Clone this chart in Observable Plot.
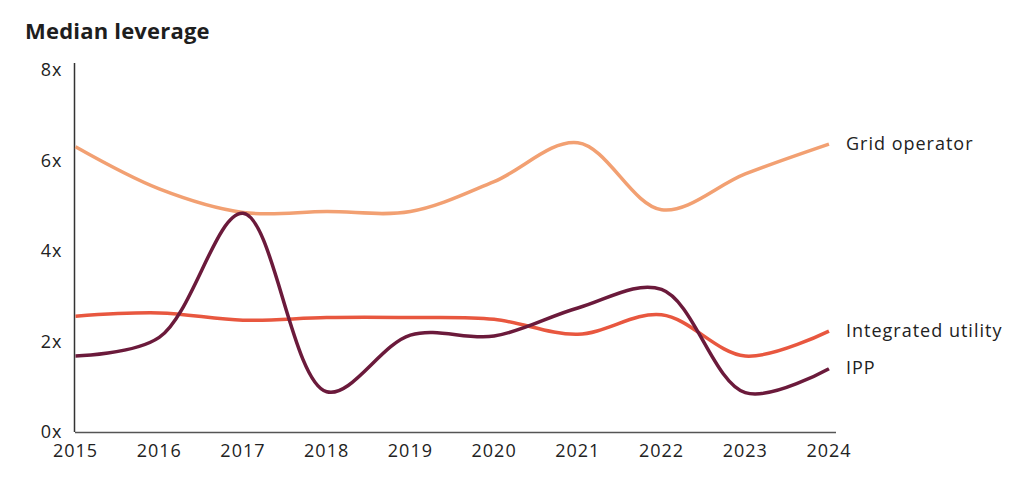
<!DOCTYPE html>
<html>
<head>
<meta charset="utf-8">
<script src="https://cdn.jsdelivr.net/npm/d3@7"></script>
<script src="https://cdn.jsdelivr.net/npm/@observablehq/plot@0.6"></script>
<style>
  html, body { margin: 0; padding: 0; background: #fff; }
  #title { font-family: "Open Sans", sans-serif; font-weight: 700; font-size: 22px; letter-spacing: 0.2px; color: #1e1e1e; padding: 15px 0 0 25px; height: 35px; box-sizing: content-box; line-height: 30px; }
  #chart svg { display: block; }
</style>
</head>
<body>
<div id="title">Median leverage</div>
<div id="chart"></div>
<script>
const years = [2015, 2016, 2017, 2018, 2019, 2020, 2021, 2022, 2023, 2024];
const seriesNames = ["Grid operator", "Integrated utility", "IPP"];
const gridOperator = [6.31, 5.38, 4.86, 4.88, 4.88, 5.54, 6.40, 4.92, 5.71, 6.37];
const integratedUtility = [2.57, 2.64, 2.48, 2.54, 2.54, 2.50, 2.17, 2.60, 1.69, 2.24];
const ipp = [1.69, 2.10, 4.84, 0.90, 2.15, 2.13, 2.75, 3.16, 0.88, 1.41];
const colors = ["#f2a072", "#e8573f", "#6b1a3b"];
const yTicks = [0, 2, 4, 6, 8];
const yTickLabels = ["0x", "2x", "4x", "6x", "8x"];

const valuesBySeries = [gridOperator, integratedUtility, ipp];
const data = seriesNames.flatMap((s, i) => years.map((yr, j) => ({series: s, year: yr, value: valuesBySeries[i][j]})));
const last = data.filter(d => d.year === years[years.length - 1]);
const font = "'Open Sans', sans-serif";

const plot = Plot.plot({
  width: 1024,
  height: 440,
  marginLeft: 75,
  marginRight: 188,
  marginTop: 13,
  marginBottom: 58,
  style: {fontFamily: font, fontSize: "18px", color: "#222", background: "#fff", letterSpacing: "1px"},
  x: {domain: [2015, 2024.09], label: null},
  y: {domain: [0, 8.15], label: null},
  color: {domain: seriesNames, range: colors},
  marks: [
    Plot.axisY({ticks: yTicks, tickFormat: (d) => yTickLabels[yTicks.indexOf(d)], tickSize: 0, tickPadding: 13, label: null, fontSize: 18, fill: "#222"}),
    Plot.axisX({ticks: years, tickFormat: d => String(d), tickSize: 0, tickPadding: 12, label: null, fontSize: 18, fill: "#222"}),
    Plot.ruleX([2015], {stroke: "#333", strokeWidth: 1.5, dx: -1}),
    Plot.ruleY([0], {stroke: "#555", strokeWidth: 1.5}),
    Plot.line(data, {x: "year", y: "value", z: "series", stroke: "series", strokeWidth: 3.5, curve: "catmull-rom", strokeLinecap: "butt"}),
    Plot.text(last, {x: "year", y: "value", text: "series", dx: 17, textAnchor: "start", fill: "#222", fontSize: 18})
  ]
});
document.getElementById("chart").appendChild(plot);
</script>
</body>
</html>
